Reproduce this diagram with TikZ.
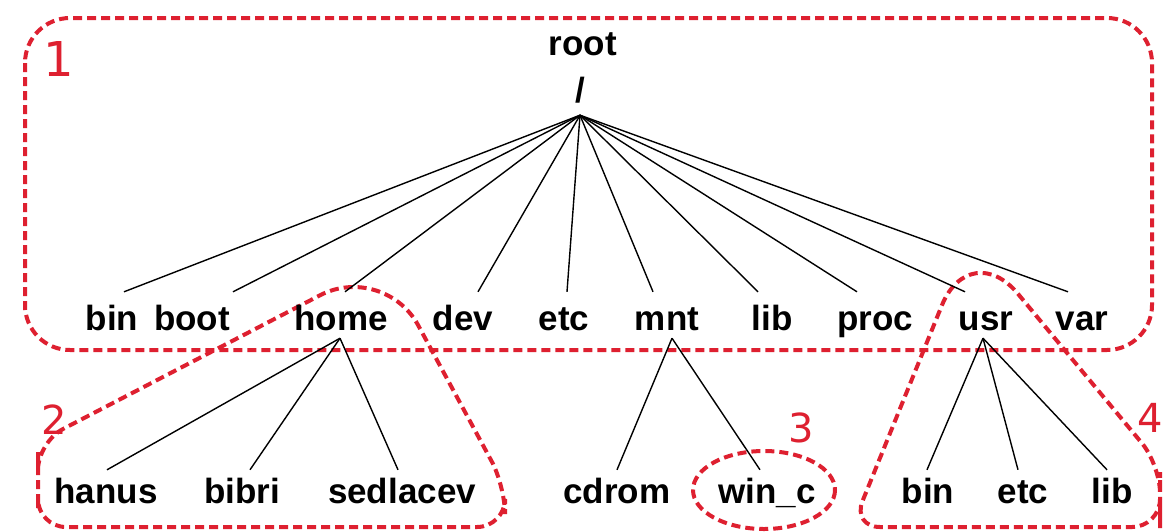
\documentclass[tikz,border=0pt]{standalone}
\usepackage{fontspec}
\setmainfont{Liberation Sans}
\newfontfamily\numfont{DejaVu Sans}
\definecolor{redmark}{RGB}{222,32,48}
\begin{document}
\begin{tikzpicture}[x=1pt,y=-1pt,
  lbl/.style={font=\fontsize{35}{40}\selectfont\bfseries, inner sep=0pt, anchor=base, text height=26pt, text depth=8pt},
  edge/.style={black, line width=1.4pt},
  zone/.style={draw=redmark, line width=4pt, dash pattern=on 9pt off 5pt},
  num/.style={text=redmark, font=\numfont\fontsize{40}{44}\selectfont, inner sep=0pt}]
\useasboundingbox[fill=white] (0,0) rectangle (1164,531);

% dashed zones
\draw[zone, rounded corners=45] (25,18) rectangle (1152,350);
\draw[zone, rounded corners=28] (38,480) -- (38,527) -- (505,527) -- (505,486)
   [rounded corners=72] -- (384,262) [rounded corners=28] -- (38,442) -- cycle;
\draw[zone] (764,490) ellipse [x radius=71, y radius=39];
\draw[zone, rounded corners=28] (1160,500) -- (1160,527) -- (852,527)
   [rounded corners=75] -- (970,236) [rounded corners=28] -- (1160,465) -- cycle;

% zone numbers
\node[num, font=\numfont\fontsize{48}{52}\selectfont] (n1) at (59,59) {1};
\node[num] (n2) at (54,420) {2};
\node[num] (n3) at (801,428) {3};
\node[num] (n4) at (1150,418) {4};

% root
\node[lbl, text height=20pt, text depth=4pt] (root) at (583,55) {root};
\node[lbl, text height=22pt, text depth=0pt] (slash) at (580,102) {/};

% level 1
\node[lbl] (bin) at (112,330) {bin};
\node[lbl] (boot) at (192,330) {boot};
\node[lbl] (home) at (341,330) {home};
\node[lbl] (dev) at (463,330) {dev};
\node[lbl] (etc) at (564,330) {etc};
\node[lbl] (mnt) at (667,330) {mnt};
\node[lbl] (lib) at (772,330) {lib};
\node[lbl] (proc) at (875,330) {proc};
\node[lbl] (usr) at (986,330) {usr};
\node[lbl] (var) at (1082,330) {var};

% level 2
\node[lbl] (hanus) at (106,503) {hanus};
\node[lbl] (bibri) at (242,503) {bibri};
\node[lbl] (sedlacev) at (402,503) {sedlacev};
\node[lbl] (cdrom) at (617,503) {cdrom};
\node[lbl] (winc) at (767,503) {win\_c};
\node[lbl] (ubin) at (928,503) {bin};
\node[lbl] (uetc) at (1023,503) {etc};
\node[lbl] (ulib) at (1112,503) {lib};

% connectors
\foreach \n/\dx in {bin/12, boot/41, home/4, dev/15, etc/3, mnt/-14, lib/-14, proc/-18, usr/-21, var/-14}
  \draw[edge] ([yshift=-13pt]slash.south) -- ([xshift=\dx pt, yshift=12pt]\n.north);
\foreach \n/\dx in {hanus/1, bibri/8, sedlacev/-4}
  \draw[edge] ([xshift=-1pt]home.south) -- ([xshift=\dx pt, yshift=7pt]\n.north);
\foreach \n/\dx in {cdrom/0, winc/-7}
  \draw[edge] ([xshift=5pt]mnt.south) -- ([xshift=\dx pt, yshift=7pt]\n.north);
\foreach \n/\dx in {ubin/-1, uetc/-5, ulib/-5}
  \draw[edge] ([xshift=-3pt]usr.south) -- ([xshift=\dx pt, yshift=7pt]\n.north);
\end{tikzpicture}
\end{document}
